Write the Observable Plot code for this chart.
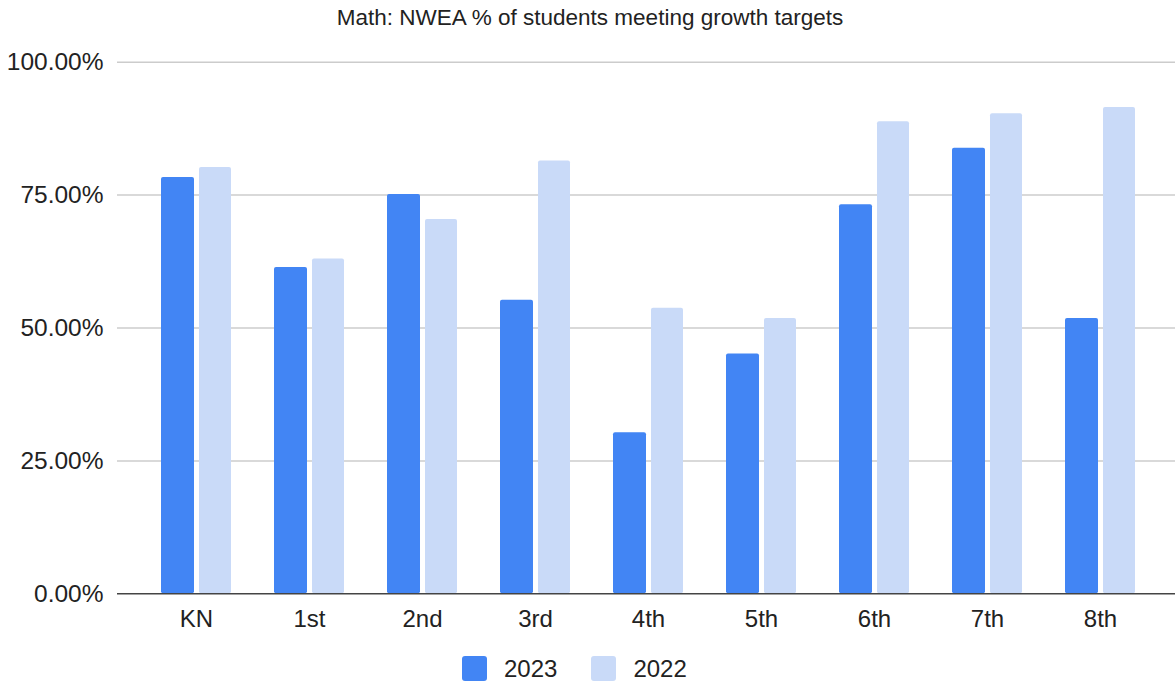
<!DOCTYPE html>
<html>
<head>
<meta charset="utf-8">
<script src="https://cdn.jsdelivr.net/npm/d3@7"></script>
<script src="https://cdn.jsdelivr.net/npm/@observablehq/plot@0.6"></script>
<style>
  body { margin: 0; background: #fff; font-family: "Liberation Sans", Arial, Helvetica, sans-serif; }
  #wrap { position: relative; width: 1175px; height: 683px; overflow: hidden; }
  #title { position: absolute; left: 0; top: 6px; width: 1180px; text-align: center;
           font-size: 22.5px; line-height: 24px; color: #222; }
  #chart { position: absolute; left: 0; top: 40px; }
  #legend { position: absolute; left: 462px; top: 656px; display: flex; align-items: center;
            font-size: 24px; line-height: 25px; color: #222; }
  .item { display: flex; align-items: center; margin-right: 34px; }
  .swatch { width: 25px; height: 25px; border-radius: 3px; margin-right: 17px; }
</style>
</head>
<body>
<div id="wrap">
  <div id="title">Math: NWEA % of students meeting growth targets</div>
  <div id="chart"></div>
  <div id="legend"></div>
</div>
<script>
// Grade levels and share of students meeting growth targets, per year
const grades = ["KN", "1st", "2nd", "3rd", "4th", "5th", "6th", "7th", "8th"];
const values2023 = [0.783, 0.614, 0.751, 0.552, 0.303, 0.451, 0.732, 0.838, 0.518];
const values2022 = [0.802, 0.630, 0.704, 0.814, 0.537, 0.518, 0.888, 0.903, 0.915];
const years = ["2023", "2022"];
const colors = ["#4285f4", "#c9daf8"];
const yTicks = [0, 0.25, 0.5, 0.75, 1];

const rows = [
  ...grades.map((g, i) => ({grade: g, year: "2023", value: values2023[i]})),
  ...grades.map((g, i) => ({grade: g, year: "2022", value: values2022[i]}))
];

const pct = d => (d * 100).toFixed(2) + "%";

const chart = Plot.plot({
  width: 1175,
  height: 605,
  marginLeft: 117,
  marginRight: 0,
  marginTop: 21.7,
  marginBottom: 51.7,
  style: {fontFamily: '"Liberation Sans", Arial, Helvetica, sans-serif', fontSize: "24px", color: "#222", background: "#fff", overflow: "visible"},
  x: {domain: grades, paddingInner: 0.383, paddingOuter: 0.19, insetLeft: 20, insetRight: 16, label: null},
  y: {domain: [0, 1], label: null},
  color: {domain: years, range: colors},
  marks: [
    Plot.gridY(yTicks.slice(1), {stroke: "#cccccc", strokeOpacity: 1, strokeWidth: 1.5}),
    Plot.barY(rows.filter(d => d.year === "2023"), {x: "grade", y: "value", fill: "year", insetRight: 37, rx: 2}),
    Plot.barY(rows.filter(d => d.year === "2022"), {x: "grade", y: "value", fill: "year", insetLeft: 38, rx: 2}),
    Plot.ruleY([0], {stroke: "#444", strokeWidth: 1.5}),
    Plot.axisY({ticks: yTicks, tickFormat: pct, tickSize: 0, tickPadding: 14, fontSize: 24.5}),
    Plot.axisX({tickSize: 0, tickPadding: 16, fontSize: 24})
  ]
});
document.getElementById("chart").appendChild(chart);

// Legend swatches built from the same series names and colours
const legend = document.getElementById("legend");
years.forEach((y, i) => {
  const item = document.createElement("div");
  item.className = "item";
  const sw = document.createElement("div");
  sw.className = "swatch";
  sw.style.background = colors[i];
  const label = document.createElement("span");
  label.textContent = y;
  item.appendChild(sw);
  item.appendChild(label);
  legend.appendChild(item);
});
</script>
</body>
</html>
